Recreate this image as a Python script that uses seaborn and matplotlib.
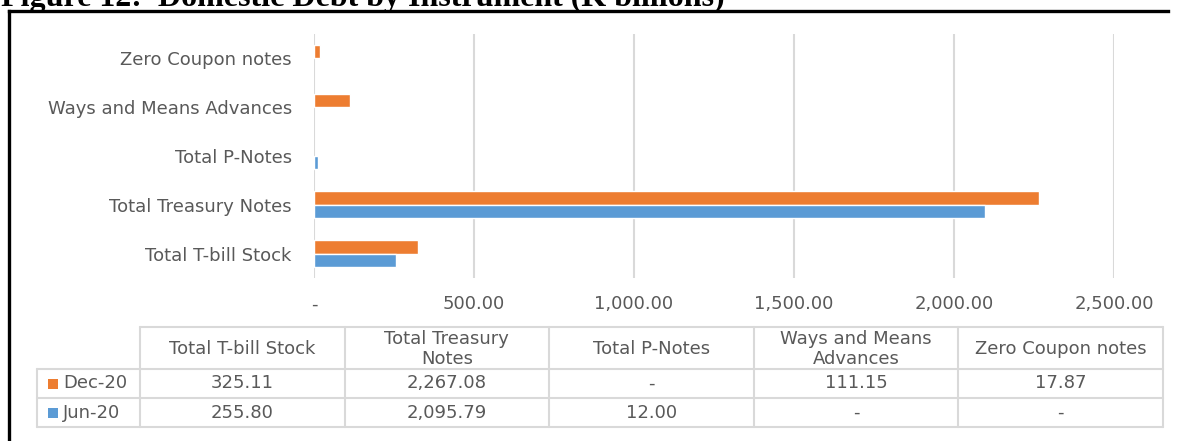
import numpy as np
import pandas as pd
import matplotlib
matplotlib.use("Agg")
import matplotlib.pyplot as plt
from matplotlib.patches import Rectangle
import seaborn as sns

# ---------------- data ----------------
categories = ["Total T-bill Stock", "Total Treasury Notes", "Total P-Notes",
              "Ways and Means Advances", "Zero Coupon notes"]
table_headers = ["Total T-bill Stock", "Total Treasury\nNotes", "Total P-Notes",
                 "Ways and Means\nAdvances", "Zero Coupon notes"]
series_names = ["Dec-20", "Jun-20"]
dec20 = [325.11, 2267.08, np.nan, 111.15, 17.87]
jun20 = [255.80, 2095.79, 12.00, np.nan, np.nan]
x_ticks = [0, 500, 1000, 1500, 2000, 2500]
title = "Figure 12:  Domestic Debt by Instrument (K billions)"

colors = {"Dec-20": "#ED7D31", "Jun-20": "#5B9BD5"}
text_color = "#595959"
grid_color = "#D9D9D9"

df = pd.DataFrame({
    "category": categories * 2,
    "series": [series_names[0]] * len(categories) + [series_names[1]] * len(categories),
    "value": dec20 + jun20,
})

# ---------------- figure ----------------
W, H = 1179, 441
sns.set_theme(style="white")
plt.rcParams["font.family"] = ["DejaVu Sans"]
fig = plt.figure(figsize=(W / 100, H / 100), dpi=100)

def fx(px):
    return px / W

def fy(py):
    return 1 - py / H

FS = 13

# bar axes
ax_l, ax_r, ax_t, ax_b = 314, 1114, 34, 278
ax = fig.add_axes([fx(ax_l), fy(ax_b), fx(ax_r - ax_l), (ax_b - ax_t) / H])
sns.barplot(data=df, y="category", x="value", hue="series",
            order=categories[::-1], hue_order=series_names,
            palette=colors, width=0.55, saturation=1, errorbar=None,
            legend=False, ax=ax)
ax.set_xlim(0, 2500)
ax.set_xticks(x_ticks)
ax.set_xticklabels(["-" if t == 0 else f"{t:,.2f}" for t in x_ticks])
ax.set_xlabel("")
ax.set_ylabel("")
ax.grid(axis="x", color=grid_color, linewidth=1.5)
ax.grid(axis="y", visible=False)
ax.set_axisbelow(True)
for s in ax.spines.values():
    s.set_visible(False)
ax.tick_params(axis="x", length=0, pad=12.5, labelsize=FS, labelcolor=text_color)
ax.tick_params(axis="y", length=0, pad=16, labelsize=FS, labelcolor=text_color)

# ---------------- overlay: frame, title, data table ----------------
tax = fig.add_axes([0, 0, 1, 1])
tax.set_xlim(0, W)
tax.set_ylim(H, 0)
tax.axis("off")
tax.patch.set_alpha(0)

# black frame (left and top)
tax.plot([9, 9], [H + 5, 11], color="black", lw=2.4, solid_capstyle="projecting")
tax.plot([9, 1168], [11, 11], color="black", lw=2.4, solid_capstyle="projecting")

# title (cut at top, as in the reference)
tax.text(1, 6, title, fontsize=23, fontweight="bold", family="Liberation Serif",
         ha="left", va="baseline", color="black")

# data table geometry
col_edges = np.linspace(140, 1163, len(categories) + 1)
label_left = 37
row_edges = [327, 369, 398, 427]
lw = 1.5

for i, y in enumerate(row_edges):
    x0 = col_edges[0] if i == 0 else label_left
    tax.plot([x0, col_edges[-1]], [y, y], color=grid_color, lw=lw)
for x in col_edges:
    tax.plot([x, x], [row_edges[0], row_edges[-1]], color=grid_color, lw=lw)
tax.plot([label_left, label_left], [row_edges[1], row_edges[-1]], color=grid_color, lw=lw)

# header text
for i, h in enumerate(table_headers):
    cx = (col_edges[i] + col_edges[i + 1]) / 2
    cy = (row_edges[0] + row_edges[1]) / 2
    tax.text(cx, cy + 1, h, ha="center", va="center", fontsize=FS, color=text_color,
             linespacing=1.15)

# rows
for r, (name, vals) in enumerate(zip(series_names, [dec20, jun20])):
    cy = (row_edges[r + 1] + row_edges[r + 2]) / 2
    tax.add_patch(Rectangle((48, cy - 5), 10, 10, color=colors[name], lw=0))
    tax.text(63, cy, name, ha="left", va="center", fontsize=FS, color=text_color)
    for i, v in enumerate(vals):
        cx = (col_edges[i] + col_edges[i + 1]) / 2
        s = "-" if np.isnan(v) else f"{v:,.2f}"
        tax.text(cx, cy, s, ha="center", va="center", fontsize=FS, color=text_color)

fig.savefig("out.png", dpi=100)
